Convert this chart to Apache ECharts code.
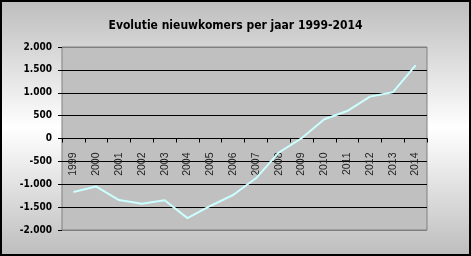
<!DOCTYPE html>
<html>
<head>
<meta charset="utf-8">
<script src="https://cdn.jsdelivr.net/npm/echarts@6/dist/echarts.min.js"></script>
<style>html,body{margin:0;padding:0;}#c{width:471px;height:256px;}</style>
</head>
<body>
<div id="c"></div>
<script>
var titleText = 'Evolutie nieuwkomers per jaar 1999-2014';
var years = ['1999','2000','2001','2002','2003','2004','2005','2006','2007','2008','2009','2010','2011','2012','2013','2014'];
var nieuwkomers = [-1170, -1050, -1345, -1425, -1350, -1740, -1475, -1235, -870, -310, 5, 420, 600, 915, 1010, 1600];
var yTicks = [-2000, -1500, -1000, -500, 0, 500, 1000, 1500, 2000];

var chart = echarts.init(document.getElementById('c'), null, {renderer: 'canvas'});
function fmt(v) {
  var s = Math.abs(v).toString();
  if (s.length > 3) s = s.slice(0, s.length - 3) + '.' + s.slice(s.length - 3);
  return (v < 0 ? '-' : '') + s;
}
var splitColors = yTicks.map(function (v, i) { return (i === 0 || i === yTicks.length - 1) ? '#808080' : '#000000'; });
var gridTop = 47, gridBottom = 26, gridH = 256 - gridTop - gridBottom;
var yMin = yTicks[0], yMax = yTicks[yTicks.length - 1];
// distance from grid bottom up to the zero line
var zeroOffset = -gridH * (0 - yMin) / (yMax - yMin);
chart.setOption({
  animation: false,
  backgroundColor: new echarts.graphic.LinearGradient(0, 0, 0, 1, [
    {offset: 0, color: '#bdbdbd'},
    {offset: 0.5, color: '#ffffff'},
    {offset: 1, color: '#bdbdbd'}
  ]),
  title: {
    text: titleText,
    left: 'center',
    top: 15,
    textStyle: {fontFamily: 'DejaVu Sans Condensed', fontWeight: 'bold', fontSize: 12, color: '#000'}
  },
  grid: {
    left: 62, right: 44, top: gridTop, bottom: gridBottom,
    containLabel: false,
    outerBoundsMode: 'none',
    show: true, backgroundColor: '#c0c0c0', borderColor: '#808080', borderWidth: 1
  },
  xAxis: {
    type: 'category',
    data: years,
    boundaryGap: true,
    offset: zeroOffset,
    axisLine: {show: true, onZero: false, lineStyle: {color: '#000', width: 1}},
    axisTick: {show: true, length: 4, lineStyle: {color: '#000'}},
    axisLabel: {rotate: 90, margin: 14, fontFamily: 'Liberation Sans', fontSize: 10.5, color: '#222'},
    splitLine: {show: false}
  },
  yAxis: {
    type: 'value',
    min: yMin, max: yMax, interval: 500,
    axisLine: {show: false},
    axisTick: {show: true, length: 4, lineStyle: {color: '#000'}},
    axisLabel: {formatter: fmt, margin: 10, fontFamily: 'DejaVu Sans Condensed', fontWeight: 'bold', fontSize: 10, color: '#000'},
    splitLine: {show: true, lineStyle: {color: splitColors, width: 1}}
  },
  series: [{
    type: 'line',
    data: nieuwkomers,
    symbol: 'none',
    lineStyle: {color: '#ccffff', width: 2}
  }],
  graphic: [{
    type: 'rect',
    shape: {x: 1, y: 1, width: 469, height: 254},
    style: {fill: 'none', stroke: '#000', lineWidth: 2},
    silent: true
  }]
});
</script>
</body>
</html>
